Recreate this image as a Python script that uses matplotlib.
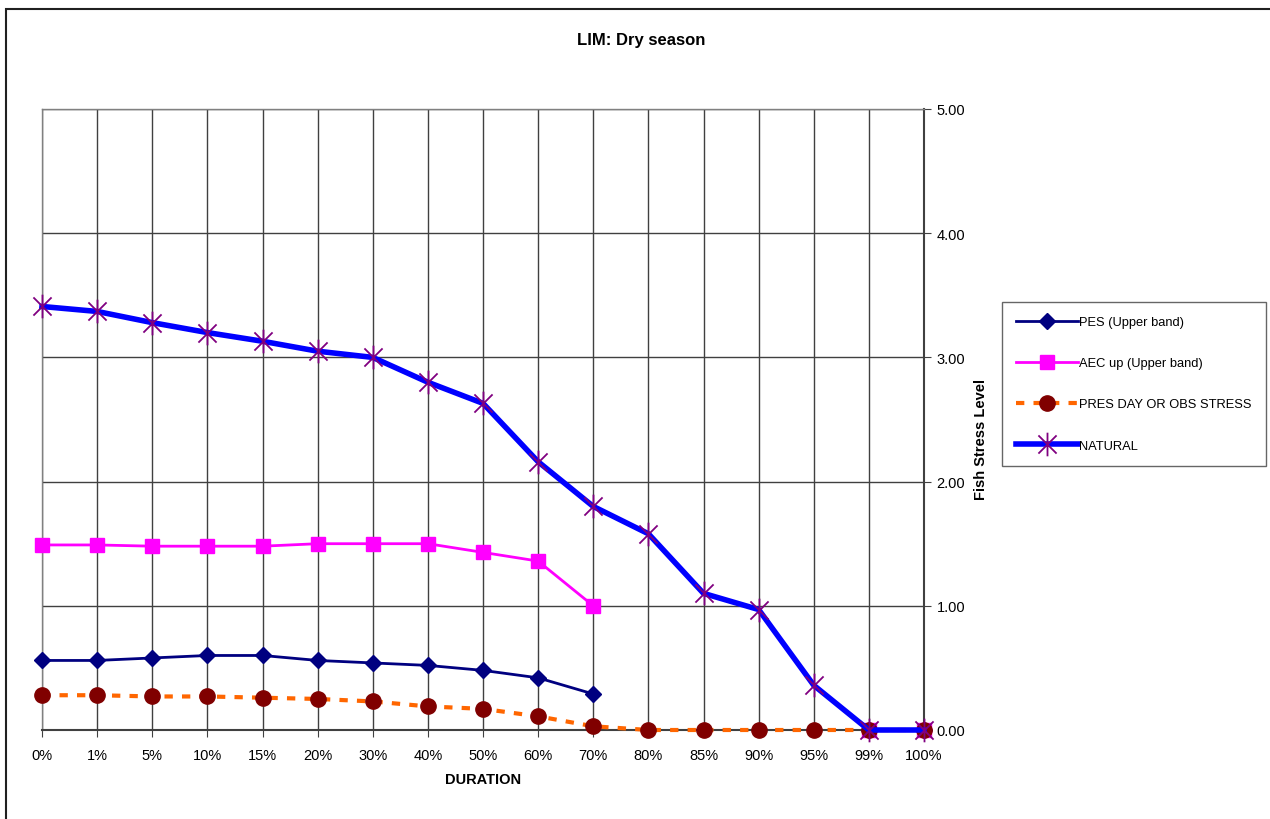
import matplotlib
matplotlib.use("Agg")
import matplotlib.pyplot as plt
import numpy as np
from matplotlib.path import Path
from matplotlib.patches import Rectangle

plt.rcParams['font.family'] = ['Liberation Sans', 'DejaVu Sans']

categories = ["0%", "1%", "5%", "10%", "15%", "20%", "30%", "40%", "50%",
              "60%", "70%", "80%", "85%", "90%", "95%", "99%", "100%"]
nan = np.nan
pes = [0.56, 0.56, 0.58, 0.60, 0.60, 0.56, 0.54, 0.52, 0.48, 0.42, 0.29,
       nan, nan, nan, nan, 0.0, 0.0]
aec = [1.49, 1.49, 1.48, 1.48, 1.48, 1.50, 1.50, 1.50, 1.43, 1.36, 1.00,
       nan, nan, nan, nan, 0.0, 0.0]
pres = [0.28, 0.28, 0.27, 0.27, 0.26, 0.25, 0.23, 0.19, 0.17, 0.11, 0.03,
        0.0, 0.0, 0.0, 0.0, 0.0, 0.0]
natural = [3.41, 3.37, 3.28, 3.20, 3.13, 3.05, 3.00, 2.80, 2.63, 2.16, 1.80,
           1.58, 1.10, 0.97, 0.36, 0.0, 0.0]
yticks = [0, 1, 2, 3, 4, 5]

fig = plt.figure(figsize=(12.7, 8.2), dpi=100)
fig.patches.append(Rectangle((6/1270, -0.05), 1.1, 1 - 10/820 + 0.05,
                             transform=fig.transFigure, fill=False,
                             edgecolor='#202020', linewidth=1.5))
ax = fig.add_axes([42/1270, 1 - 731/820, (924 - 42)/1270, (731 - 110)/820])

x = np.arange(len(categories))

star = Path([(-1, -1), (1, 1), (-1, 1), (1, -1), (0, -1.3), (0, 1.3)],
            [Path.MOVETO, Path.LINETO, Path.MOVETO, Path.LINETO, Path.MOVETO, Path.LINETO])

ax.plot(x, pes, color='#000080', lw=2, marker='D', ms=8, mfc='#000080',
        mec='#000080', label='PES (Upper band)', zorder=3, clip_on=False)
ax.plot(x, aec, color='#FF00FF', lw=2, marker='s', ms=10, mfc='#FF00FF',
        mec='#FF00FF', label='AEC up (Upper band)', zorder=3, clip_on=False)
ax.plot(x, pres, color='#FF6600', lw=3, ls=(0, (2, 2.2)), marker='o', ms=11,
        mfc='#800000', mec='#800000', label='PRES DAY OR OBS STRESS', zorder=4,
        clip_on=False)
ax.plot(x, natural, color='#0000FF', lw=4, marker=star, ms=17, mfc='none',
        mec='#800080', mew=1.3, label='NATURAL', zorder=5, clip_on=False)

ax.set_xlim(0, len(categories) - 1)
ax.set_ylim(0, 5)
ax.set_xticks(x)
ax.set_xticklabels(categories, fontsize=10.5)
ax.yaxis.tick_right()
ax.set_yticks(yticks)
ax.set_yticklabels([f"{v:.2f}" for v in yticks], fontsize=10.5)
ax.tick_params(axis='x', direction='out', length=5, color='#404040', pad=8)
ax.tick_params(axis='y', direction='out', length=5, color='#404040', pad=4)
ax.grid(True, color='#404040', lw=1)
ax.set_axisbelow(True)
for s in ['left', 'top']:
    ax.spines[s].set_color('#808080')
    ax.spines[s].set_linewidth(1)
for s in ['right', 'bottom']:
    ax.spines[s].set_color('#404040')
    ax.spines[s].set_linewidth(1.5)

ax.set_xlabel('DURATION', fontsize=10.5, fontweight='bold', labelpad=7)
fig.text(981/1270, 1 - 440/820, 'Fish Stress Level', rotation=90,
         ha='center', va='center', fontsize=10.5, fontweight='bold')
fig.text(641/1270, 1 - 41/820, 'LIM: Dry season',
         ha='center', va='center', fontsize=12, fontweight='bold')

leg = fig.legend(loc='upper left', bbox_to_anchor=(1002/1270, 1 - 303/820),
                 fontsize=9.3, frameon=True, fancybox=False, labelspacing=2.25,
                 handlelength=4.8, handletextpad=0.05, borderpad=1.1,
                 borderaxespad=0)
leg.get_frame().set_edgecolor('#404040')
leg.get_frame().set_linewidth(1)

fig.savefig('out.png', dpi=100)
